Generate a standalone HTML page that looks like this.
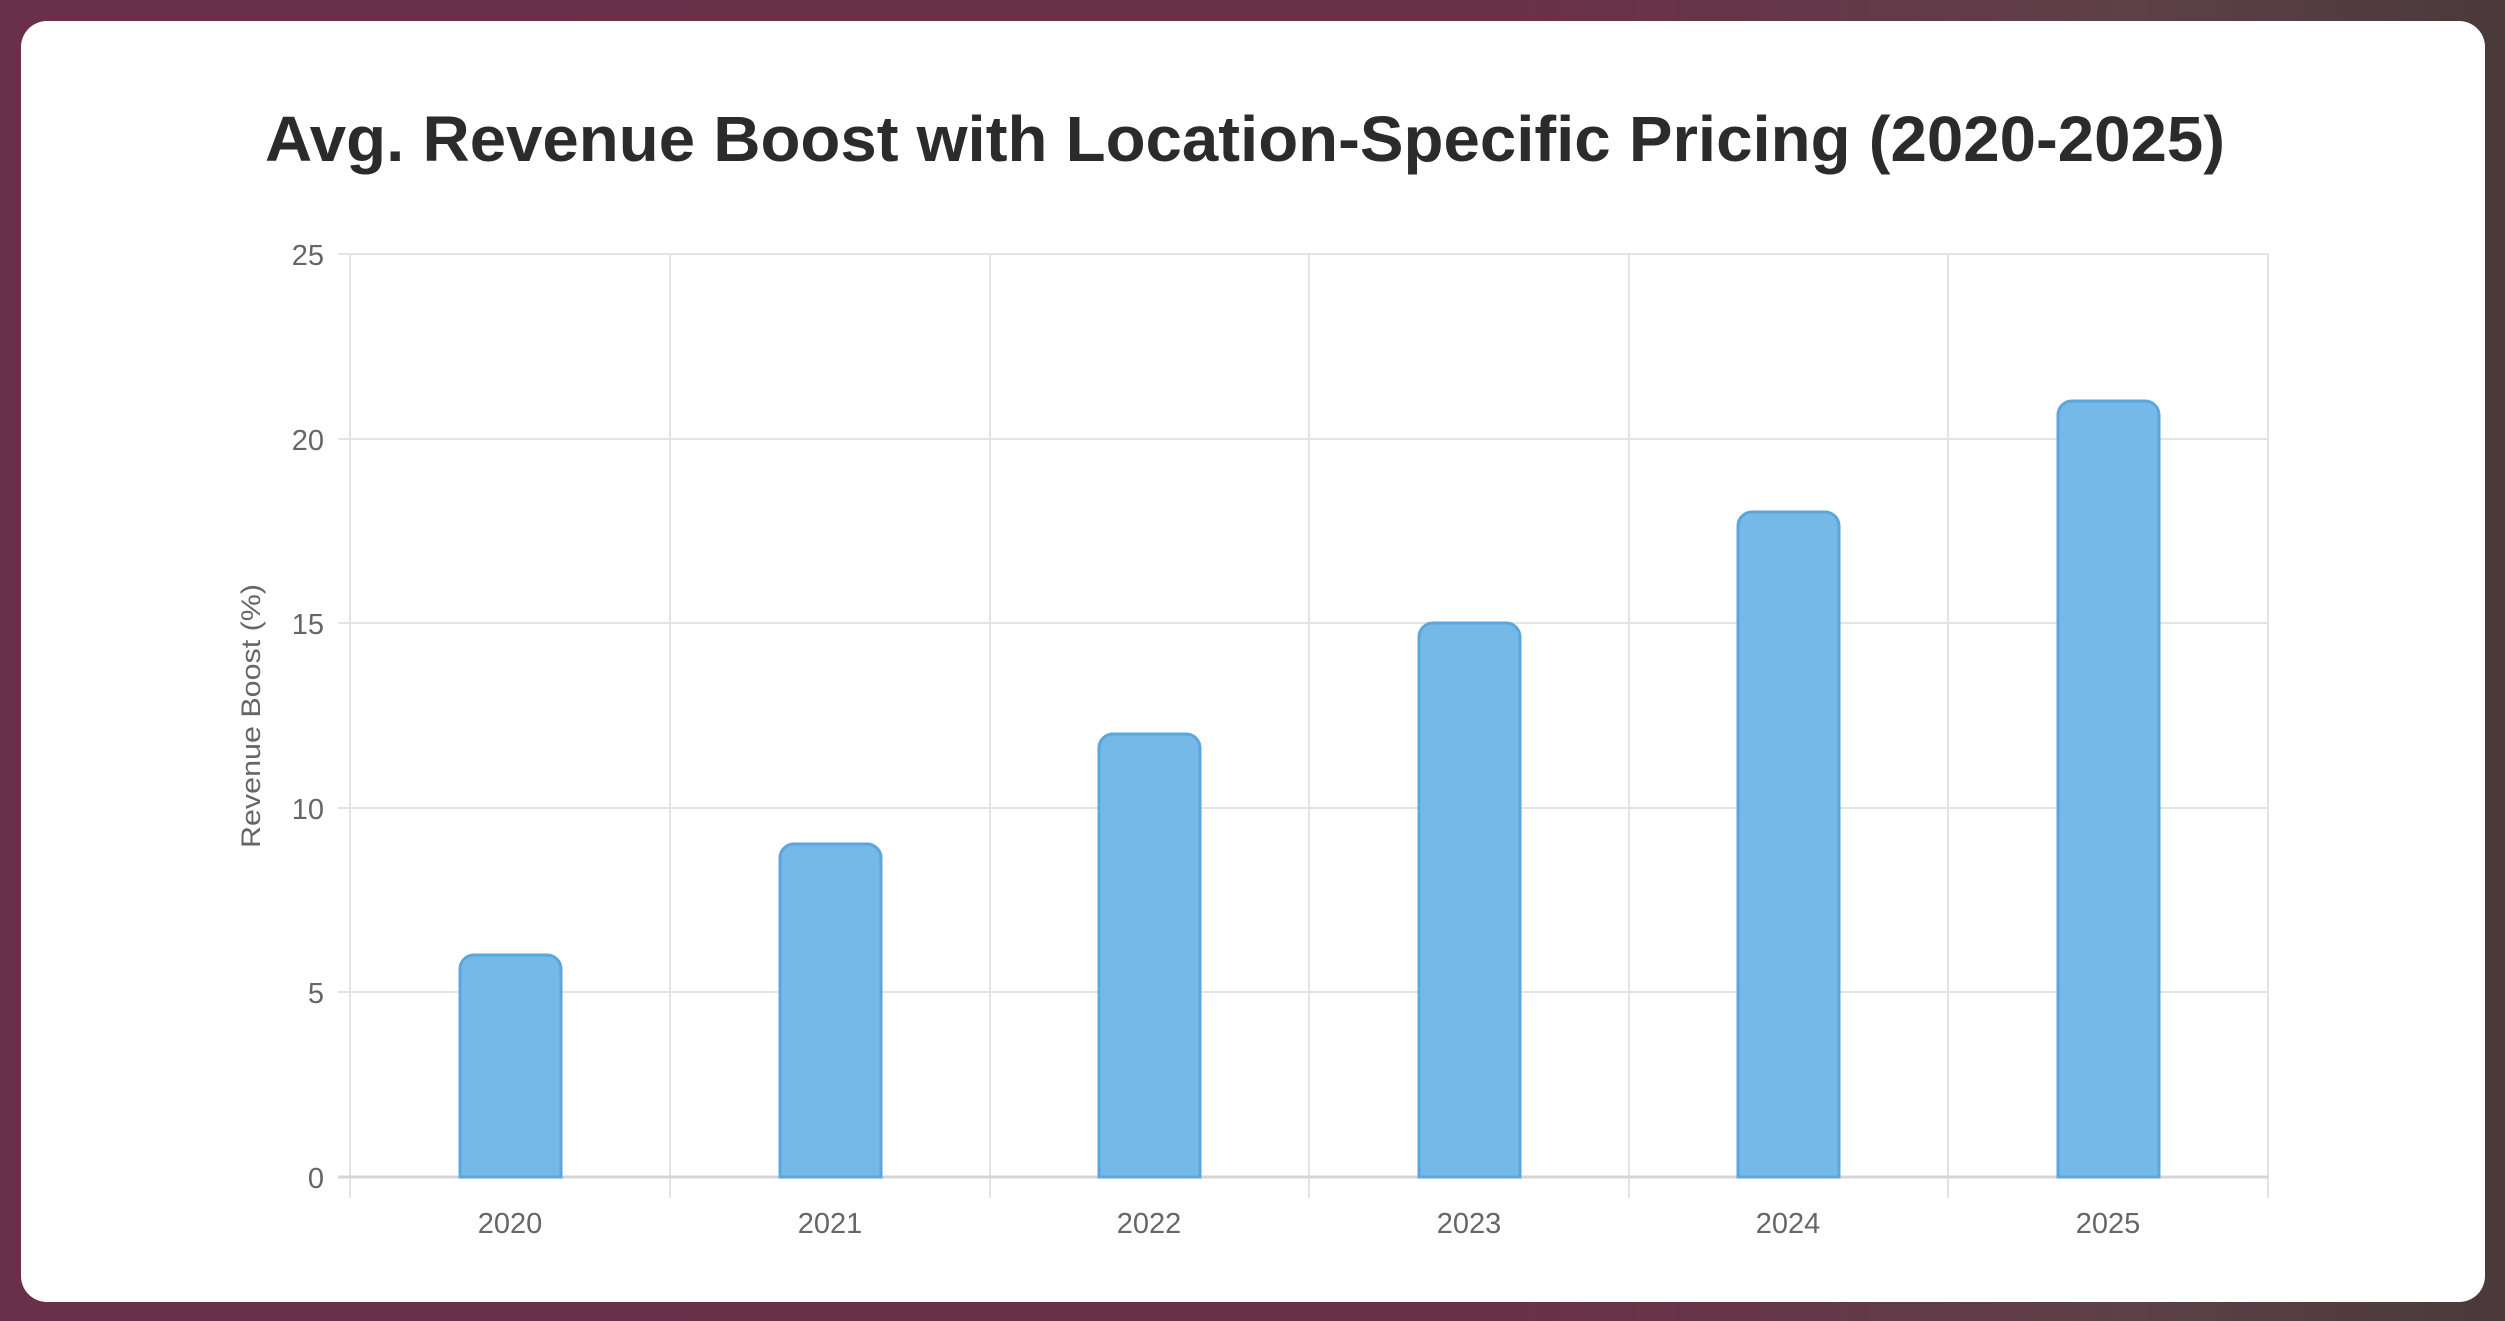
<!DOCTYPE html>
<html><head><style>
html,body{margin:0;padding:0;}
body{width:2505px;height:1321px;overflow:hidden;background:linear-gradient(90deg,#6b3049 0%,#6a3048 60%,#5e4048 85%,#4a3a3a 100%);position:relative;font-family:"Liberation Sans",sans-serif;}
.card{position:absolute;left:21px;top:21px;width:2464px;height:1281px;background:#fff;border-radius:26px;}
svg{position:absolute;left:0;top:0;}
</style></head><body>
<div class="card"></div>
<svg width="2505" height="1321" viewBox="0 0 2505 1321">
<text x="1245" y="161" text-anchor="middle" font-family="Liberation Sans, sans-serif" font-weight="bold" font-size="64" fill="#2b2b2b" textLength="1960" lengthAdjust="spacingAndGlyphs">Avg. Revenue Boost with Location-Specific Pricing (2020-2025)</text>
<g stroke="#e3e3e3" stroke-width="2">
<line x1="338" y1="254" x2="2268" y2="254"/>
<line x1="338" y1="439" x2="2268" y2="439"/>
<line x1="338" y1="623" x2="2268" y2="623"/>
<line x1="338" y1="808" x2="2268" y2="808"/>
<line x1="338" y1="992" x2="2268" y2="992"/>
<line x1="350" y1="254" x2="350" y2="1198"/>
<line x1="670" y1="254" x2="670" y2="1198"/>
<line x1="990" y1="254" x2="990" y2="1198"/>
<line x1="1309" y1="254" x2="1309" y2="1198"/>
<line x1="1629" y1="254" x2="1629" y2="1198"/>
<line x1="1948" y1="254" x2="1948" y2="1198"/>
<line x1="2268" y1="254" x2="2268" y2="1198"/>
</g>
<line x1="338" y1="1177" x2="2268" y2="1177" stroke="#d6d6d6" stroke-width="3"/>
<g fill="#74b9e7" stroke="#5aa6dd" stroke-width="3">
<path d="M460,1177 V969 a14,14 0 0 1 14,-14 H547 a14,14 0 0 1 14,14 V1177 Z"/>
<path d="M780,1177 V858 a14,14 0 0 1 14,-14 H867 a14,14 0 0 1 14,14 V1177 Z"/>
<path d="M1099,1177 V748 a14,14 0 0 1 14,-14 H1186 a14,14 0 0 1 14,14 V1177 Z"/>
<path d="M1419,1177 V637 a14,14 0 0 1 14,-14 H1506 a14,14 0 0 1 14,14 V1177 Z"/>
<path d="M1738,1177 V526 a14,14 0 0 1 14,-14 H1825 a14,14 0 0 1 14,14 V1177 Z"/>
<path d="M2058,1177 V415 a14,14 0 0 1 14,-14 H2145 a14,14 0 0 1 14,14 V1177 Z"/>
</g>
<g font-family="Liberation Sans, sans-serif" font-size="29" fill="#666" text-anchor="end">
<text x="324" y="265">25</text>
<text x="324" y="450">20</text>
<text x="324" y="634">15</text>
<text x="324" y="819">10</text>
<text x="324" y="1003">5</text>
<text x="324" y="1188">0</text>
</g>
<g font-family="Liberation Sans, sans-serif" font-size="29" fill="#666" text-anchor="middle">
<text x="510" y="1233">2020</text>
<text x="830" y="1233">2021</text>
<text x="1149" y="1233">2022</text>
<text x="1469" y="1233">2023</text>
<text x="1788" y="1233">2024</text>
<text x="2108" y="1233">2025</text>
</g>
<text transform="translate(260,716) rotate(-90)" text-anchor="middle" font-family="Liberation Sans, sans-serif" font-size="27" fill="#666" textLength="264" lengthAdjust="spacingAndGlyphs">Revenue Boost (%)</text>
</svg>
</body></html>
